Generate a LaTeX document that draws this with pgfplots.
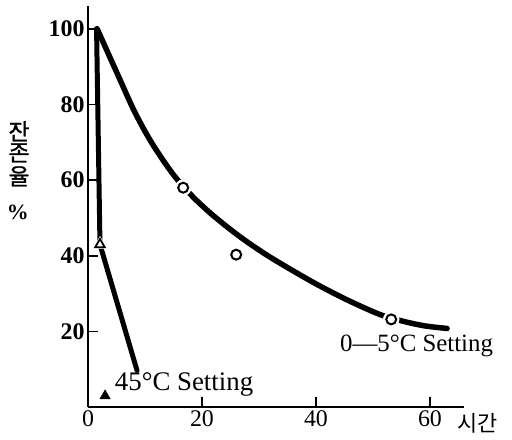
\documentclass[border=0pt]{standalone}
\usepackage{fontspec}
\setmainfont{Liberation Serif}
\newfontfamily\kr{Noto Sans CJK KR}
\newfontfamily\krb[FakeBold=1.2]{Noto Sans CJK KR}
\usepackage{pgfplots}
\pgfplotsset{compat=1.18}
\begin{document}
\begin{tikzpicture}
\begin{axis}[
 scale only axis, width=377bp, height=402bp,
 xmin=0, xmax=66, ymin=0, ymax=106,
 axis lines=left, axis line style={line width=2bp,-},
 xtick={0,20,40,60}, ytick={20,40,60,80,100},
 tick style={line width=1.5bp,black}, major tick length=10bp, tick align=inside,
 xticklabel style={font=\fontsize{24}{26}\selectfont},
 yticklabel style={font=\fontsize{24}{26}\selectfont\bfseries},
 /pgf/number format/assume math mode=true,
 clip=false,
]
% 0-5 C setting curve
\addplot[black, line width=5.5bp, line cap=round, smooth, tension=0.5] coordinates {
 (1.6,100) (5.3,87.6) (8.2,78) (11.2,69.8) (14.9,61.6) (18.4,55.6) (22,50.6)
 (26.7,45.0) (32,39.6) (39.5,33.0) (45.4,28.4) (51.2,24.5) (55.3,22.7) (59,21.5) (63,20.8)};
% 45 C setting line
\addplot[black, line width=5bp, line cap=round] coordinates {
 (1.5,100) (2.1,43) (8.6,9.7)};
% halos
\addplot[only marks, mark=*, mark size=8bp, mark options={draw=white, fill=white}] coordinates {(16.7,58) (53.2,23.2)};
\addplot[only marks, mark=triangle*, mark size=8bp, mark options={draw=white, fill=white}] coordinates {(2.1,43)};
% markers
\addplot[only marks, mark=o, mark size=5bp, mark options={line width=2bp, draw=black, fill=white}] coordinates {(16.7,58) (26,40.3) (53.2,23.2)};
\addplot[only marks, mark=triangle, mark size=5.5bp, mark options={line width=1.8bp, draw=black, fill=white}] coordinates {(2.1,43)};
\addplot[only marks, mark=triangle*, mark size=6bp, mark options={draw=black, fill=black}] coordinates {(3,3)};
% labels
\node[anchor=base west, font=\fontsize{27}{30}\selectfont, inner sep=0pt] at (axis cs:4.7,4.5) {45°C Setting};
\node[anchor=base west, font=\fontsize{25}{28}\selectfont, inner sep=0pt] at (axis cs:44.2,14.7) {0—5°C Setting};
\node[font=\kr\fontsize{22}{22}\selectfont, inner sep=0pt] at (axis cs:68.4,-4.2) {시간};
\node[font=\krb\fontsize{23}{23}\selectfont, inner sep=0pt] at (axis cs:-12.1,72.9) {잔};
\node[font=\krb\fontsize{23}{23}\selectfont, inner sep=0pt] at (axis cs:-12.1,67.2) {존};
\node[font=\krb\fontsize{23}{23}\selectfont, inner sep=0pt] at (axis cs:-12.1,61.0) {율};
\node[font=\bfseries\fontsize{22}{22}\selectfont, inner sep=0pt] at (axis cs:-12.3,51.6) {\%};
\coordinate (bl) at (axis cs:-15.44,-8.42);
\coordinate (tr) at (axis cs:74.39,107.6);
\end{axis}
\pgfresetboundingbox
\path[use as bounding box] (bl) rectangle (tr);
\end{tikzpicture}
\end{document}
